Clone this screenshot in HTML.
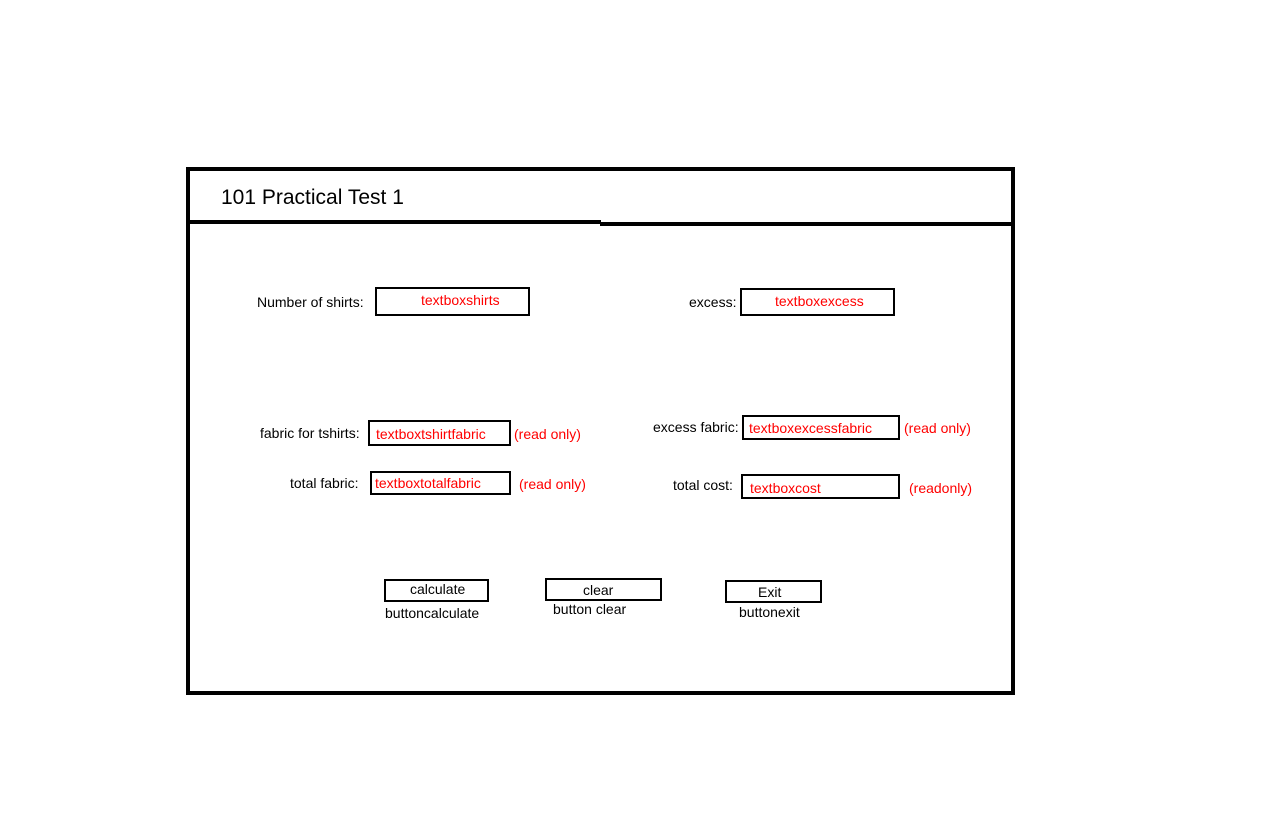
<!DOCTYPE html>
<html><head><style>
body{margin:0;width:1263px;height:837px;background:#fff;position:relative;font-family:"Liberation Sans",sans-serif;overflow:hidden}
div{position:absolute;box-sizing:border-box}
.t{font-size:14px;color:#000;white-space:nowrap;line-height:16px}
.r{color:#f00}
.b{border:2px solid #000}
</style></head><body>
<div style="left:186px;top:167px;width:829px;height:528px;border:4px solid #000"></div>
<div style="left:188px;top:220px;width:413px;height:4px;background:#000"></div>
<div style="left:600px;top:222px;width:413px;height:4px;background:#000"></div>
<div class="t" style="left:221px;top:186px;font-size:21px;line-height:24px">101 Practical Test 1</div>

<div class="t" style="left:257px;top:294px">Number of shirts:</div>
<div class="b" style="left:375px;top:287px;width:155px;height:29px"></div>
<div class="t r" style="left:421px;top:292px">textboxshirts</div>

<div class="t" style="left:689px;top:294px">excess:</div>
<div class="b" style="left:740px;top:288px;width:155px;height:28px"></div>
<div class="t r" style="left:775px;top:293px">textboxexcess</div>

<div class="t" style="left:260px;top:425px">fabric for tshirts:</div>
<div class="b" style="left:368px;top:420px;width:143px;height:26px"></div>
<div class="t r" style="left:376px;top:426px">textboxtshirtfabric</div>
<div class="t r" style="left:514px;top:426px">(read only)</div>

<div class="t" style="left:653px;top:419px">excess fabric:</div>
<div class="b" style="left:742px;top:415px;width:158px;height:25px"></div>
<div class="t r" style="left:749px;top:420px">textboxexcessfabric</div>
<div class="t r" style="left:904px;top:420px">(read only)</div>

<div class="t" style="left:290px;top:475px">total fabric:</div>
<div class="b" style="left:370px;top:471px;width:141px;height:24px"></div>
<div class="t r" style="left:375px;top:475px">textboxtotalfabric</div>
<div class="t r" style="left:519px;top:476px">(read only)</div>

<div class="t" style="left:673px;top:477px">total cost:</div>
<div class="b" style="left:741px;top:474px;width:159px;height:25px"></div>
<div class="t r" style="left:750px;top:480px">textboxcost</div>
<div class="t r" style="left:909px;top:480px">(readonly)</div>

<div class="b" style="left:384px;top:579px;width:105px;height:23px"></div>
<div class="t" style="left:410px;top:581px">calculate</div>
<div class="t" style="left:385px;top:605px">buttoncalculate</div>

<div class="b" style="left:545px;top:578px;width:117px;height:23px"></div>
<div class="t" style="left:583px;top:582px">clear</div>
<div class="t" style="left:553px;top:601px">button clear</div>

<div class="b" style="left:725px;top:580px;width:97px;height:23px"></div>
<div class="t" style="left:758px;top:584px">Exit</div>
<div class="t" style="left:739px;top:604px">buttonexit</div>
</body></html>
